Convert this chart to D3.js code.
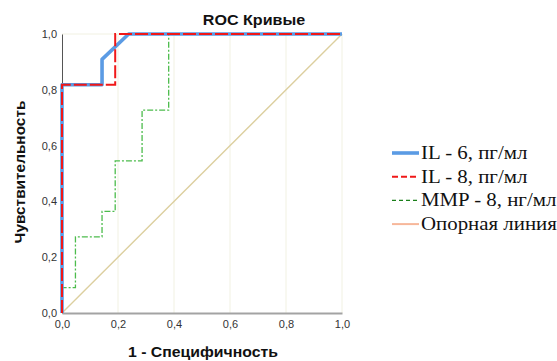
<!DOCTYPE html>
<html>
<head>
<meta charset="utf-8">
<script src="https://cdn.jsdelivr.net/npm/d3@7"></script>
<style>
  html, body { margin: 0; padding: 0; background: #fff; }
  svg { display: block; }
</style>
</head>
<body>
<svg id="chart" width="557" height="361"></svg>
<script>
// ROC curves: false positive rate (1 - specificity) vs sensitivity
const il6Fpr = [0, 0, 0.143, 0.143, 0.238, 1];
const il6Tpr = [0, 0.818, 0.818, 0.909, 1, 1];

const il8Fpr = [0, 0, 0.190, 0.190, 1];
const il8Tpr = [0, 0.818, 0.818, 1, 1];

const mmpFpr = [0, 0, 0.048, 0.048, 0.143, 0.143, 0.190, 0.190, 0.286, 0.286, 0.381, 0.381, 1];
const mmpTpr = [0, 0.091, 0.091, 0.273, 0.273, 0.364, 0.364, 0.545, 0.545, 0.727, 0.727, 1, 1];

const refFpr = [0, 1];
const refTpr = [0, 1];

const tickValues = [0, 0.2, 0.4, 0.6, 0.8, 1.0];
const legendLabels = ["IL - 6, пг/мл", "IL - 8, пг/мл", "MMP - 8, нг/мл", "Опорная линия"];

const svg = d3.select("#chart");
const plotLeft = 62, plotRight = 342, plotTop = 34, plotBottom = 313;

const x = d3.scaleLinear().domain([0, 1]).range([plotLeft, plotRight]);
const y = d3.scaleLinear().domain([0, 1]).range([plotBottom, plotTop]);
const fmt = d => d3.format(".1f")(d).replace(".", ",");

// faint vertical grid
svg.append("g").selectAll("line").data(tickValues.slice(1)).join("line")
  .attr("x1", d => x(d)).attr("x2", d => x(d))
  .attr("y1", plotTop).attr("y2", plotBottom)
  .attr("stroke", "#f1f1e2").attr("stroke-width", 1);
svg.append("line")
  .attr("x1", plotLeft).attr("x2", plotRight).attr("y1", plotTop).attr("y2", plotTop)
  .attr("stroke", "#f1f1e2");

// axes
const xAxis = svg.append("g").attr("transform", `translate(0,${plotBottom})`)
  .call(d3.axisBottom(x).tickValues(tickValues).tickFormat(fmt).tickSize(0).tickPadding(7));
xAxis.select(".domain").attr("stroke", "#a3a3a3").attr("stroke-width", 2.2);

const yAxis = svg.append("g").attr("transform", `translate(${plotLeft},0)`)
  .call(d3.axisLeft(y).tickValues(tickValues).tickFormat(fmt).tickSize(0).tickPadding(5));
yAxis.select(".domain").attr("stroke", "#555").attr("stroke-width", 1);

svg.selectAll(".tick text")
  .attr("font-family", "Liberation Sans, Arial, sans-serif")
  .attr("font-size", 11).attr("fill", "#333");

const line = d3.line().x(d => x(d[0])).y(d => y(d[1]));
const pts = (xs, ys) => xs.map((v, i) => [v, ys[i]]);

// diagonal reference
svg.append("path").datum(pts(refFpr, refTpr)).attr("d", line)
  .attr("fill", "none").attr("stroke", "#dccf9f").attr("stroke-width", 1.4);

svg.append("path").datum(pts(mmpFpr, mmpTpr)).attr("d", line)
  .attr("fill", "none").attr("stroke", "#4cbc4c").attr("stroke-width", 1.3)
  .attr("stroke-dasharray", "6,2,2,2");

svg.append("path").datum(pts(il6Fpr, il6Tpr)).attr("d", line)
  .attr("fill", "none").attr("stroke", "#5b9be4").attr("stroke-width", 3.6)
  .attr("stroke-linejoin", "round");

svg.append("path").datum(pts(il8Fpr, il8Tpr)).attr("d", line)
  .attr("fill", "none").attr("stroke", "#f01818").attr("stroke-width", 2)
  .attr("stroke-dasharray", "13,3");

// titles (slightly widened lettering)
const sans = "Liberation Sans, Arial, sans-serif";
svg.append("text").attr("transform", "translate(254,25) scale(1.15,1)")
  .attr("text-anchor", "middle")
  .attr("font-family", sans).attr("font-weight", "bold")
  .attr("font-size", 14).attr("fill", "#111").text("ROC Кривые");

svg.append("text").attr("transform", "translate(203,357) scale(1.13,1)")
  .attr("text-anchor", "middle")
  .attr("font-family", sans).attr("font-weight", "bold")
  .attr("font-size", 14).attr("fill", "#111").text("1 - Специфичность");

svg.append("text").attr("transform", "translate(25,172) rotate(-90) scale(1.1,1)")
  .attr("text-anchor", "middle")
  .attr("font-family", sans).attr("font-weight", "bold")
  .attr("font-size", 14).attr("fill", "#111").text("Чувствительность");

// legend
const legendStyles = [
  { color: "#5b9be4", width: 3.6, dash: null },
  { color: "#f01818", width: 2, dash: "6,3" },
  { color: "#1a7f1a", width: 1.2, dash: "4,3" },
  { color: "#f7b79a", width: 2, dash: null }
];
const legend = svg.append("g");
legendLabels.forEach((label, i) => {
  const cy = 153 + i * 23.7;
  const s = legendStyles[i];
  legend.append("line").attr("x1", 392).attr("x2", 419).attr("y1", cy).attr("y2", cy)
    .attr("stroke", s.color).attr("stroke-width", s.width)
    .attr("stroke-dasharray", s.dash);
  legend.append("text").attr("transform", `translate(421,${cy + 6}) scale(1.16,1)`)
    .attr("font-family", "Liberation Serif, Times New Roman, serif")
    .attr("font-size", 18).attr("fill", "#111").text(label);
});
</script>
</body>
</html>
